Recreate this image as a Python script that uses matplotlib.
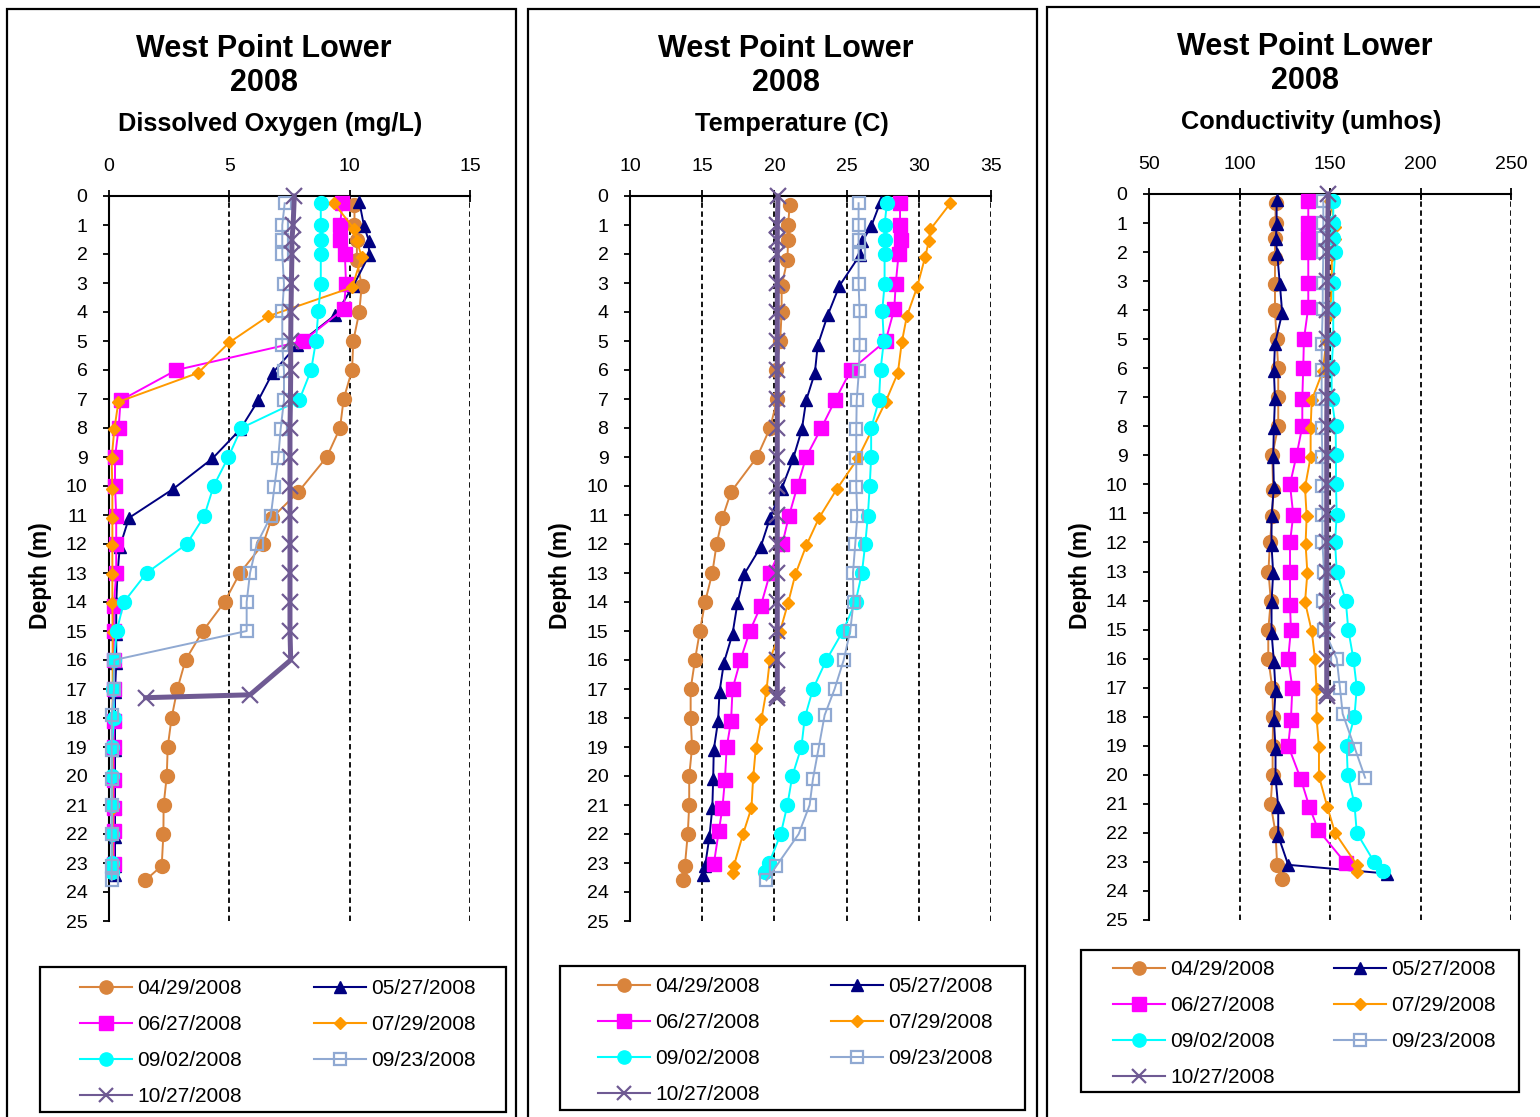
import matplotlib
matplotlib.use('Agg')
import matplotlib.pyplot as plt
from matplotlib.patches import Rectangle
from matplotlib.lines import Line2D
import numpy as np

plt.rcParams['font.family'] = ['Liberation Sans', 'DejaVu Sans']

W, H = 1540, 1117

# ---------------- data ----------------
dates = ['04/29/2008', '05/27/2008', '06/27/2008', '07/29/2008',
         '09/02/2008', '09/23/2008', '10/27/2008']

depth_0429 = [0.3, 1, 1.5, 2.2, 3.1, 4, 5, 6, 7, 8, 9, 10.2, 11.1, 12, 13, 14, 15, 16, 17, 18, 19, 20, 21, 22, 23.1, 23.6]
depth_0527 = [0.2, 1.05, 1.55, 2.05, 3.1, 4.1, 5.15, 6.1, 7.05, 8.05, 9.05, 10.1, 11.1, 12.1, 13.05, 14.05, 15.1, 16.1, 17.1, 18.1, 19.1, 20.1, 21.1, 22.1, 23.1, 23.4]
depth_0627 = [0.25, 1, 1.5, 2, 3.05, 3.9, 5, 6, 7.05, 8, 9, 10, 11.05, 12, 13, 14.15, 15, 16, 17, 18.1, 19, 20.15, 21.1, 21.9, 23.05]
depth_0729 = [0.25, 1.15, 1.55, 2.1, 3.15, 4.15, 5.05, 6.1, 7.1, 8.05, 9.05, 10.1, 11.1, 12.05, 13.05, 14.05, 15.05, 16, 17.05, 18.05, 19.05, 20.05, 21.1, 22, 23.1, 23.35]
depth_0902 = [0.25, 1, 1.5, 2, 3.05, 3.95, 5, 6, 7.05, 8, 9, 10, 11.05, 12, 13, 14, 15, 16, 17, 18, 19, 20, 21, 22, 23, 23.3]
depth_0923 = [0.25, 1, 1.5, 2, 3.05, 3.95, 5.15, 6.05, 7.05, 8.05, 9.05, 10.05, 11.05, 12, 13, 14, 15, 16, 17, 17.9, 19.1, 20.1, 21, 22, 23.1, 23.6]
depth_1027 = [0, 1, 1.5, 2, 3, 4, 5, 6, 7, 8, 9, 10, 11, 12, 13, 14, 15, 16, 17.2, 17.3]

# Dissolved oxygen (mg/L)
do_0429 = [10.2, 10.2, 10.3, 10.3, 10.5, 10.4, 10.15, 10.1, 9.75, 9.6, 9.05, 7.87, 6.77, 6.4, 5.44, 4.8, 3.9, 3.18, 2.84, 2.6, 2.44, 2.4, 2.27, 2.26, 2.19, 1.5]
do_0527 = [10.4, 10.6, 10.8, 10.8, 10.15, 9.4, 7.8, 6.8, 6.2, 5.45, 4.3, 2.67, 0.83, 0.45, 0.35, 0.3, 0.3, 0.3, 0.25, 0.25, 0.25, 0.25, 0.25, 0.25, 0.25, 0.25]
do_0627 = [9.7, 9.6, 9.6, 9.8, 9.85, 9.75, 8.07, 2.8, 0.48, 0.4, 0.25, 0.25, 0.3, 0.3, 0.3, 0.2, 0.2, 0.2, 0.2, 0.2, 0.2, 0.2, 0.2, 0.2, 0.2]
do_0729 = [9.35, 10.2, 10.3, 10.5, 10.1, 6.6, 5.0, 3.7, 0.39, 0.22, 0.11, 0.14, 0.14, 0.14, 0.14, 0.14, 0.15, 0.15, 0.15, 0.15, 0.15, 0.15, 0.15, 0.15, 0.15, 0.15]
do_0902 = [8.8, 8.8, 8.8, 8.8, 8.8, 8.7, 8.6, 8.4, 7.9, 5.5, 4.96, 4.35, 3.95, 3.23, 1.56, 0.62, 0.32, 0.22, 0.18, 0.22, 0.11, 0.11, 0.11, 0.11, 0.11, 0.11]
do_0923 = [7.3, 7.2, 7.2, 7.2, 7.27, 7.2, 7.2, 7.27, 7.27, 7.13, 7.03, 6.87, 6.72, 6.14, 5.86, 5.72, 5.72, 0.22, 0.21, 0.11, 0.11, 0.11, 0.11, 0.11, 0.11, 0.11]
do_1027 = [7.7, 7.65, 7.6, 7.6, 7.58, 7.56, 7.55, 7.55, 7.54, 7.52, 7.52, 7.52, 7.52, 7.52, 7.52, 7.52, 7.52, 7.55, 5.86, 1.52]

# Temperature (C)
t_0429 = [21.06, 20.95, 20.95, 20.9, 20.5, 20.5, 20.4, 20.1, 20.2, 19.7, 18.8, 17.0, 16.4, 16.0, 15.7, 15.2, 14.84, 14.5, 14.2, 14.2, 14.3, 14.1, 14.1, 14.0, 13.8, 13.65]
t_0527 = [27.35, 26.7, 26.1, 25.9, 24.5, 23.7, 23.0, 22.8, 22.2, 21.9, 21.3, 20.5, 19.7, 19.05, 17.9, 17.44, 17.1, 16.5, 16.2, 16.1, 15.8, 15.76, 15.7, 15.5, 15.2, 15.07]
t_0627 = [28.7, 28.7, 28.8, 28.6, 28.4, 28.3, 27.7, 25.3, 24.2, 23.25, 22.2, 21.6, 21.0, 20.55, 19.7, 19.05, 18.3, 17.65, 17.1, 17.0, 16.7, 16.57, 16.4, 16.15, 15.8]
t_0729 = [32.19, 30.8, 30.7, 30.44, 29.88, 29.17, 28.82, 28.55, 27.7, 26.77, 25.78, 24.33, 23.09, 22.21, 21.45, 20.94, 20.37, 19.68, 19.45, 19.1, 18.71, 18.53, 18.41, 17.83, 17.19, 17.14]
t_0902 = [27.79, 27.63, 27.63, 27.63, 27.63, 27.47, 27.58, 27.35, 27.24, 26.7, 26.7, 26.6, 26.47, 26.29, 26.06, 25.62, 24.75, 23.6, 22.67, 22.1, 21.87, 21.24, 20.9, 20.44, 19.63, 19.38]
t_0923 = [25.83, 25.83, 25.83, 25.83, 25.83, 25.9, 25.9, 25.85, 25.7, 25.67, 25.67, 25.67, 25.74, 25.6, 25.44, 25.48, 25.25, 24.8, 24.17, 23.48, 23.04, 22.67, 22.44, 21.68, 20.14, 19.45]
t_1027 = [20.25, 20.2, 20.2, 20.2, 20.2, 20.2, 20.2, 20.2, 20.2, 20.2, 20.2, 20.2, 20.2, 20.2, 20.2, 20.2, 20.2, 20.2, 20.2, 20.2]

# Conductivity (umhos)
c_0429 = [119.9, 119.9, 119.6, 119.6, 119.6, 119.6, 120.5, 121.4, 121.4, 121.4, 118.1, 118.6, 118.1, 116.8, 116.0, 117.3, 115.9, 115.9, 118.1, 118.6, 118.3, 118.3, 117.2, 119.9, 120.8, 123.6]
c_0527 = [120.5, 120.5, 120.1, 120.8, 122.3, 123.6, 119.6, 119.0, 119.6, 119.0, 118.6, 119.0, 117.7, 117.7, 118.6, 117.7, 117.7, 119.0, 119.9, 119.0, 119.9, 119.9, 121.4, 121.4, 126.9, 181.4]
c_0627 = [138, 138, 138, 138, 138, 138, 135.6, 135.2, 134.7, 134.7, 131.5, 127.9, 129.7, 127.9, 127.9, 127.9, 128.4, 126.9, 129.2, 128.4, 126.9, 133.9, 138.6, 143.5, 158.7]
c_0729 = [150, 153, 153, 151, 151, 150, 148, 146, 139.9, 139.3, 139.3, 136.2, 137.1, 136.5, 137.5, 136.2, 139.9, 141.7, 142.6, 142.6, 143.9, 143.9, 148.5, 152.8, 164.8, 164.8]
c_0902 = [151.8, 151.8, 151.8, 152.8, 151.8, 151.8, 151.8, 150.9, 150.9, 153.1, 153.3, 153.3, 153.7, 152.8, 153.7, 158.7, 160.1, 162.9, 164.8, 163.5, 159.2, 159.8, 163.5, 164.8, 174.4, 179.2]
c_0923 = [146.3, 146.3, 146.3, 146.3, 146.0, 146.0, 145.4, 145.4, 145.4, 145.4, 145.8, 145.8, 145.8, 145.8, 146.7, 146.3, 146.7, 153.7, 155.5, 157.0, 163.8, 169.4, np.nan, np.nan, np.nan, np.nan]
c_1027 = [149.0, 148.8, 148.7, 148.6, 148.5, 148.5, 148.4, 148.4, 148.3, 148.2, 148.2, 148.2, 148.2, 148.2, 148.2, 148.2, 148.2, 148.2, 148.2, 148.2]

depths = [depth_0429, depth_0527, depth_0627, depth_0729, depth_0902, depth_0923, depth_1027]
panels = [
    dict(sub='Dissolved Oxygen (mg/L)', vals=[do_0429, do_0527, do_0627, do_0729, do_0902, do_0923, do_1027],
         xlim=(0, 15), xticks=[0, 5, 10, 15], box=(109, 470, 196, 921),
         frame=(7, 9, 516), title_x=264, title_y=(49, 83, 124), ylab_x=40,
         leg_box=(40, 967, 506, 1112), leg_x=80, leg_top=979, colsp=3.46),
    dict(sub='Temperature (C)', vals=[t_0429, t_0527, t_0627, t_0729, t_0902, t_0923, t_1027],
         xlim=(10, 35), xticks=[10, 15, 20, 25, 30, 35], box=(630, 991, 196, 921),
         frame=(528, 9, 1037), title_x=786, title_y=(49, 83, 124), ylab_x=561,
         leg_box=(560, 966, 1025, 1110), leg_x=598, leg_top=977, colsp=3.41),
    dict(sub='Conductivity (umhos)', vals=[c_0429, c_0527, c_0627, c_0729, c_0902, c_0923, c_1027],
         xlim=(50, 250), xticks=[50, 100, 150, 200, 250], box=(1149, 1511, 194, 920),
         frame=(1047, 7, 1560), title_x=1305, title_y=(47, 81, 122), ylab_x=1081,
         leg_box=(1081, 950, 1519, 1092), leg_x=1113, leg_top=960, colsp=2.83),
]

styles = [
    dict(color='#D9843C', marker='o', ms=10, mfc='#D9843C', mew=1, lw=1.4),
    dict(color='#000080', marker='^', ms=9, mfc='#000080', mew=1, lw=1.4),
    dict(color='#FF00FF', marker='s', ms=10, mfc='#FF00FF', mew=1, lw=1.4),
    dict(color='#FF9900', marker='D', ms=6, mfc='#FF9900', mew=1, lw=1.4),
    dict(color='#00FFFF', marker='o', ms=10, mfc='#00FFFF', mew=1, lw=1.4),
    dict(color='#90A9D2', marker='s', ms=9, mfc='none', mew=1.6, lw=1.4),
    dict(color='#6F5A93', marker='x', ms=11, mfc='#6F5A93', mew=1.6, lw=3.6),
]

fig = plt.figure(figsize=(W / 100, H / 100), dpi=100)


def fx(x):
    return x / W


def fy(y):
    return 1 - y / H


for p in panels:
    # panel frame
    fl, ft, fr = p['frame']
    fig.patches.append(Rectangle((fx(fl), fy(1130)), fx(fr) - fx(fl), fy(ft) - fy(1130),
                                 transform=fig.transFigure, fill=False, ec='black', lw=1.6))
    l, r, t, b = p['box']
    ax = fig.add_axes([fx(l), fy(b), fx(r) - fx(l), fy(t) - fy(b)])
    ax.set_xlim(*p['xlim'])
    ax.set_ylim(25, 0)
    ax.xaxis.tick_top()
    ax.set_xticks(p['xticks'])
    ax.set_yticks(range(0, 26))
    ax.tick_params(axis='x', direction='inout', length=8, width=1.3, pad=11, labelsize=14)
    ax.tick_params(axis='y', direction='out', length=4.5, width=1.3, pad=11, labelsize=14)
    for s in ['right', 'bottom']:
        ax.spines[s].set_visible(False)
    for s in ['top', 'left']:
        ax.spines[s].set_linewidth(1.5)
    ax.xaxis.grid(True, linestyle=(0, (3, 2)), color='black', lw=1.3)
    ax.set_axisbelow(True)

    for i, (d, v) in enumerate(zip(depths, p['vals'])):
        st = styles[i]
        ax.plot(v, d, color=st['color'], lw=st['lw'], marker=st['marker'], ms=st['ms'],
                mfc=st['mfc'], mec=st['color'], mew=st['mew'], clip_on=False, zorder=3 + i)

    # titles
    cx = p['title_x']
    fig.text(fx(cx), fy(p['title_y'][0]), 'West Point Lower', ha='center', va='center',
             fontsize=22, fontweight='bold')
    fig.text(fx(cx), fy(p['title_y'][1]), '2008', ha='center', va='center',
             fontsize=22, fontweight='bold')
    fig.text(fx(cx + 6), fy(p['title_y'][2]), p['sub'], ha='center', va='center',
             fontsize=18.3, fontweight='bold')
    fig.text(fx(p['ylab_x']), fy(576), 'Depth (m)', ha='center', va='center',
             rotation=90, fontsize=16.5, fontweight='bold')

    # legend
    handles = []
    for i, st in enumerate(styles):
        handles.append(Line2D([], [], color=st['color'], lw=1.5, marker=st['marker'],
                              ms=st['ms'] * 0.95, mfc=st['mfc'], mec=st['color'],
                              mew=st['mew']))
    order = [0, 2, 4, 6, 1, 3, 5]
    bl, bt, br, bb = p['leg_box']
    fig.patches.append(Rectangle((fx(bl), fy(bb)), fx(br) - fx(bl), fy(bt) - fy(bb),
                                 transform=fig.transFigure, fill=False, ec='black', lw=1.6))
    fig.legend([handles[k] for k in order], [dates[k] for k in order],
               loc='upper left', bbox_to_anchor=(fx(p['leg_x']), fy(p['leg_top'])),
               ncol=2, frameon=False, fontsize=15, borderpad=0, borderaxespad=0,
               handlelength=2.5, handletextpad=0.24, columnspacing=p['colsp'],
               labelspacing=0.82, numpoints=1)

fig.savefig('out.png', dpi=100)
